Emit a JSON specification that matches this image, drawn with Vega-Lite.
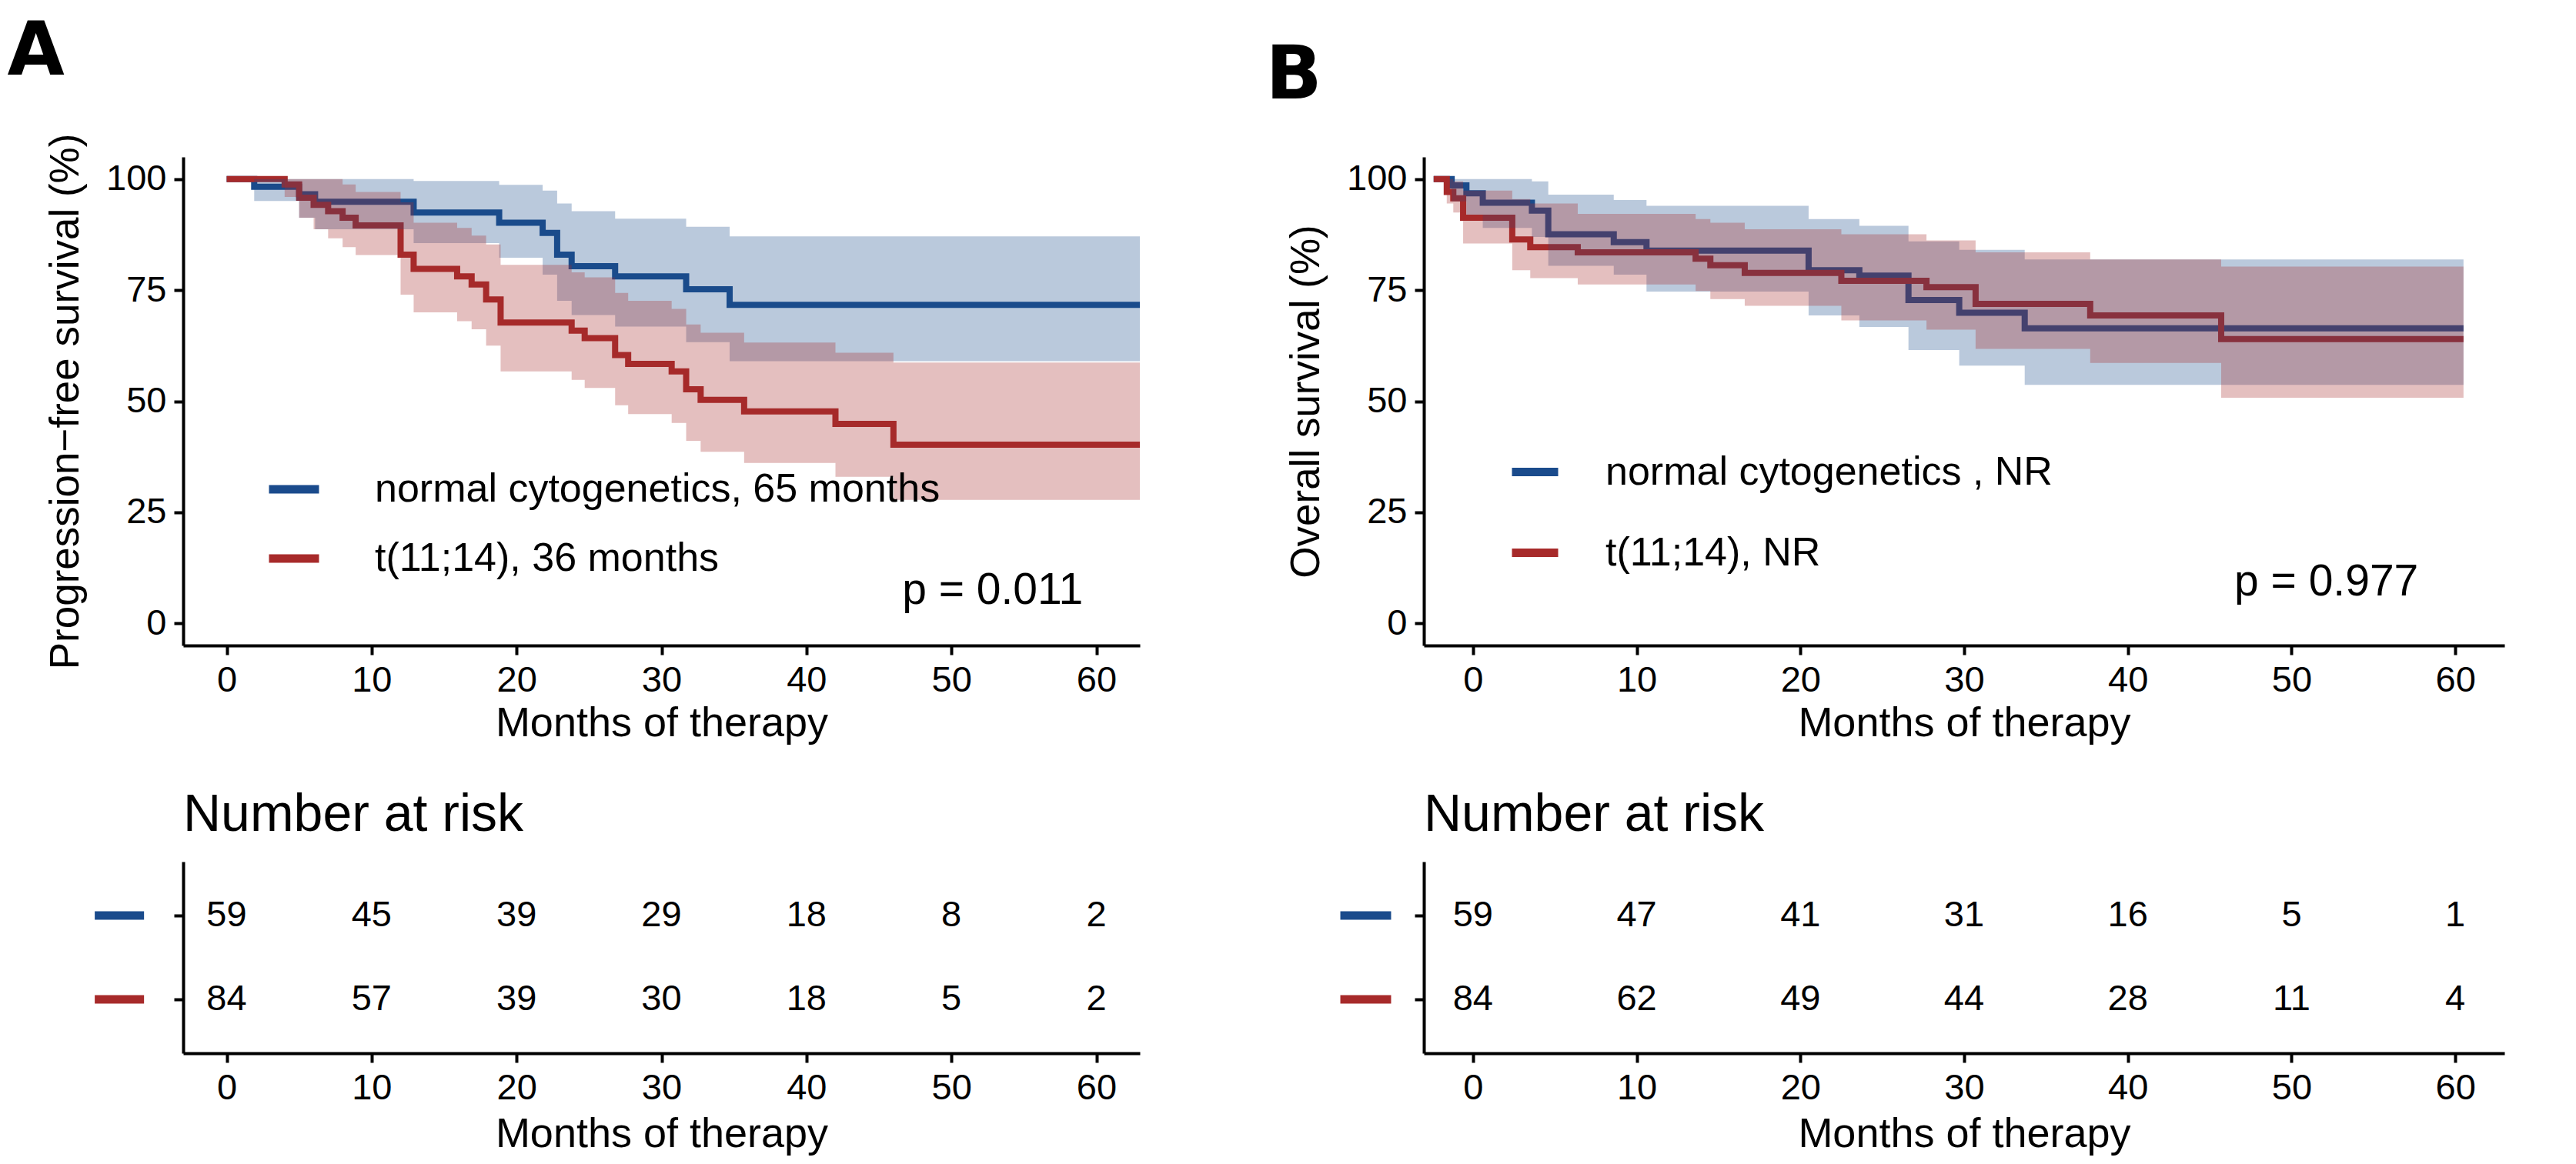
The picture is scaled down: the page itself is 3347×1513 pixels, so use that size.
{
 "$schema": "https://vega.github.io/schema/vega-lite/v6.json",
 "background": "white",
 "padding": {"left": 9, "top": 20, "right": 20, "bottom": 10},
 "config": {
  "font": "Liberation Sans",
  "view": {"stroke": null},
  "axis": {"grid": false, "domainColor": "black", "domainWidth": 4, "tickColor": "black", "tickWidth": 4, "tickSize": 12, "labelFontSize": 47, "labelColor": "black", "labelPadding": 10, "titleFontSize": 54, "titleFontWeight": "normal", "titleColor": "black", "labelFont": "Liberation Sans", "titleFont": "Liberation Sans"},
  "title": {"color": "black", "font": "Liberation Sans"},
  "text": {"font": "Liberation Sans", "color": "black"}
 },
 "datasets": {
  "kmA": [
   {"g": "normal cytogenetics, 65 months", "t": 0, "s": 100, "lo": 100, "hi": 100},
   {"g": "normal cytogenetics, 65 months", "t": 1.9, "s": 98.3, "lo": 95.1, "hi": 100},
   {"g": "normal cytogenetics, 65 months", "t": 5, "s": 96.6, "lo": 91.3, "hi": 100},
   {"g": "normal cytogenetics, 65 months", "t": 6.1, "s": 94.9, "lo": 88.7, "hi": 100},
   {"g": "normal cytogenetics, 65 months", "t": 12.9, "s": 92.5, "lo": 85.6, "hi": 99.6},
   {"g": "normal cytogenetics, 65 months", "t": 18.8, "s": 90.2, "lo": 82.3, "hi": 98.7},
   {"g": "normal cytogenetics, 65 months", "t": 21.8, "s": 87.9, "lo": 78.5, "hi": 97.4},
   {"g": "normal cytogenetics, 65 months", "t": 22.8, "s": 83.0, "lo": 72.6, "hi": 94.5},
   {"g": "normal cytogenetics, 65 months", "t": 23.8, "s": 80.4, "lo": 69.4, "hi": 92.8},
   {"g": "normal cytogenetics, 65 months", "t": 26.8, "s": 78.1, "lo": 66.8, "hi": 91.1},
   {"g": "normal cytogenetics, 65 months", "t": 31.7, "s": 75.2, "lo": 63.3, "hi": 89.3},
   {"g": "normal cytogenetics, 65 months", "t": 34.7, "s": 71.7, "lo": 59.0, "hi": 87.1},
   {"g": "normal cytogenetics, 65 months", "t": 63, "s": 71.7, "lo": 59.0, "hi": 87.1},
   {"g": "t(11;14), 36 months", "t": 0, "s": 100, "lo": 100, "hi": 100},
   {"g": "t(11;14), 36 months", "t": 4, "s": 98.8, "lo": 96, "hi": 100},
   {"g": "t(11;14), 36 months", "t": 5, "s": 95.8, "lo": 91.3, "hi": 100},
   {"g": "t(11;14), 36 months", "t": 6, "s": 94.2, "lo": 88.7, "hi": 100},
   {"g": "t(11;14), 36 months", "t": 7, "s": 92.8, "lo": 86.7, "hi": 100},
   {"g": "t(11;14), 36 months", "t": 8, "s": 91.3, "lo": 84.7, "hi": 98.8},
   {"g": "t(11;14), 36 months", "t": 8.9, "s": 89.6, "lo": 82.9, "hi": 97.1},
   {"g": "t(11;14), 36 months", "t": 12, "s": 83.0, "lo": 74.0, "hi": 94.8},
   {"g": "t(11;14), 36 months", "t": 12.9, "s": 79.8, "lo": 70.0, "hi": 90.2},
   {"g": "t(11;14), 36 months", "t": 15.9, "s": 78.1, "lo": 68.0, "hi": 89.0},
   {"g": "t(11;14), 36 months", "t": 16.9, "s": 76.3, "lo": 66.2, "hi": 87.3},
   {"g": "t(11;14), 36 months", "t": 17.9, "s": 72.9, "lo": 62.5, "hi": 85.3},
   {"g": "t(11;14), 36 months", "t": 18.9, "s": 67.7, "lo": 56.7, "hi": 80.7},
   {"g": "t(11;14), 36 months", "t": 23.8, "s": 65.9, "lo": 54.8, "hi": 79.0},
   {"g": "t(11;14), 36 months", "t": 24.7, "s": 64.2, "lo": 53.0, "hi": 77.9},
   {"g": "t(11;14), 36 months", "t": 26.8, "s": 60.4, "lo": 49.1, "hi": 74.4},
   {"g": "t(11;14), 36 months", "t": 27.7, "s": 58.4, "lo": 47.1, "hi": 72.6},
   {"g": "t(11;14), 36 months", "t": 30.7, "s": 56.7, "lo": 45.1, "hi": 70.8},
   {"g": "t(11;14), 36 months", "t": 31.7, "s": 52.7, "lo": 41.1, "hi": 67.3},
   {"g": "t(11;14), 36 months", "t": 32.7, "s": 50.3, "lo": 38.6, "hi": 65.4},
   {"g": "t(11;14), 36 months", "t": 35.7, "s": 47.7, "lo": 36.1, "hi": 63.2},
   {"g": "t(11;14), 36 months", "t": 42, "s": 44.9, "lo": 33.0, "hi": 60.9},
   {"g": "t(11;14), 36 months", "t": 46, "s": 40.2, "lo": 27.8, "hi": 58.7},
   {"g": "t(11;14), 36 months", "t": 63, "s": 40.2, "lo": 27.8, "hi": 58.7}
  ],
  "kmB": [
   {"g": "normal cytogenetics , NR", "t": -2.4, "s": 100, "lo": 100, "hi": 100},
   {"g": "normal cytogenetics , NR", "t": -1.3, "s": 98.6, "lo": 95, "hi": 100},
   {"g": "normal cytogenetics , NR", "t": -0.4, "s": 96.8, "lo": 92, "hi": 100},
   {"g": "normal cytogenetics , NR", "t": 0.6, "s": 94.7, "lo": 89, "hi": 100},
   {"g": "normal cytogenetics , NR", "t": 3.6, "s": 92.9, "lo": 87, "hi": 99.5},
   {"g": "normal cytogenetics , NR", "t": 4.6, "s": 87.6, "lo": 80.5, "hi": 96.5},
   {"g": "normal cytogenetics , NR", "t": 8.6, "s": 85.8, "lo": 78.5, "hi": 95.3},
   {"g": "normal cytogenetics , NR", "t": 10.6, "s": 83.9, "lo": 74.7, "hi": 94.0},
   {"g": "normal cytogenetics , NR", "t": 20.5, "s": 79.5, "lo": 69.3, "hi": 91.0},
   {"g": "normal cytogenetics , NR", "t": 23.6, "s": 78.3, "lo": 66.7, "hi": 89.5},
   {"g": "normal cytogenetics , NR", "t": 26.6, "s": 72.8, "lo": 61.5, "hi": 86.0},
   {"g": "normal cytogenetics , NR", "t": 29.7, "s": 69.9, "lo": 58.0, "hi": 84.1},
   {"g": "normal cytogenetics , NR", "t": 33.7, "s": 66.4, "lo": 53.7, "hi": 81.9},
   {"g": "normal cytogenetics , NR", "t": 60.5, "s": 66.4, "lo": 53.7, "hi": 81.9},
   {"g": "t(11;14), NR", "t": -2.4, "s": 100, "lo": 100, "hi": 100},
   {"g": "t(11;14), NR", "t": -1.6, "s": 97.1, "lo": 94.5, "hi": 100},
   {"g": "t(11;14), NR", "t": -1.2, "s": 95.7, "lo": 92.5, "hi": 99.5},
   {"g": "t(11;14), NR", "t": -0.6, "s": 91.3, "lo": 85.5, "hi": 97.4},
   {"g": "t(11;14), NR", "t": 2.4, "s": 86.4, "lo": 79.5, "hi": 95.5},
   {"g": "t(11;14), NR", "t": 3.5, "s": 84.7, "lo": 77.7, "hi": 94.5},
   {"g": "t(11;14), NR", "t": 6.4, "s": 83.5, "lo": 76.3, "hi": 92.2},
   {"g": "t(11;14), NR", "t": 13.6, "s": 82.1, "lo": 74.8, "hi": 91.0},
   {"g": "t(11;14), NR", "t": 14.5, "s": 80.6, "lo": 73.0, "hi": 90.2},
   {"g": "t(11;14), NR", "t": 16.6, "s": 78.9, "lo": 71.5, "hi": 88.7},
   {"g": "t(11;14), NR", "t": 22.5, "s": 77.1, "lo": 68.2, "hi": 87.6},
   {"g": "t(11;14), NR", "t": 27.7, "s": 75.7, "lo": 66.1, "hi": 86.2},
   {"g": "t(11;14), NR", "t": 30.7, "s": 71.9, "lo": 61.8, "hi": 83.5},
   {"g": "t(11;14), NR", "t": 37.7, "s": 69.3, "lo": 58.6, "hi": 81.9},
   {"g": "t(11;14), NR", "t": 45.7, "s": 64.0, "lo": 50.8, "hi": 80.3},
   {"g": "t(11;14), NR", "t": 60.5, "s": 64.0, "lo": 50.8, "hi": 80.3}
  ],
  "riskA": [
   {"g": "normal", "t": 0, "n": 59}, {"g": "normal", "t": 10, "n": 45}, {"g": "normal", "t": 20, "n": 39}, {"g": "normal", "t": 30, "n": 29}, {"g": "normal", "t": 40, "n": 18}, {"g": "normal", "t": 50, "n": 8}, {"g": "normal", "t": 60, "n": 2},
   {"g": "t1114", "t": 0, "n": 84}, {"g": "t1114", "t": 10, "n": 57}, {"g": "t1114", "t": 20, "n": 39}, {"g": "t1114", "t": 30, "n": 30}, {"g": "t1114", "t": 40, "n": 18}, {"g": "t1114", "t": 50, "n": 5}, {"g": "t1114", "t": 60, "n": 2}
  ],
  "riskB": [
   {"g": "normal", "t": 0, "n": 59}, {"g": "normal", "t": 10, "n": 47}, {"g": "normal", "t": 20, "n": 41}, {"g": "normal", "t": 30, "n": 31}, {"g": "normal", "t": 40, "n": 16}, {"g": "normal", "t": 50, "n": 5}, {"g": "normal", "t": 60, "n": 1},
   {"g": "t1114", "t": 0, "n": 84}, {"g": "t1114", "t": 10, "n": 62}, {"g": "t1114", "t": 20, "n": 49}, {"g": "t1114", "t": 30, "n": 44}, {"g": "t1114", "t": 40, "n": 28}, {"g": "t1114", "t": 50, "n": 11}, {"g": "t1114", "t": 60, "n": 4}
  ],
  "groups": [{"g": "normal"}, {"g": "t1114"}]
 },
 "columns": 2,
 "spacing": {"row": 281, "column": 369},
 "bounds": "flush",
 "resolve": {"scale": {"x": "independent", "y": "independent", "stroke": "independent", "fill": "independent", "color": "independent"}, "legend": {"stroke": "independent", "fill": "independent", "color": "independent"}},
 "concat": [
  {
   "width": 1243, "height": 635,
   "title": {"text": "A", "anchor": "start", "frame": "bounds", "font": "DejaVu Sans", "fontSize": 96, "fontWeight": "bold", "offset": 56, "dx": -50},
   "layer": [
    {
     "data": {"name": "kmA"},
     "mark": {"type": "line", "interpolate": "step-after", "strokeWidth": 8, "clip": true},
     "encoding": {
      "x": {"field": "t", "type": "quantitative", "scale": {"domain": [-3, 63], "nice": false, "zero": false}, "axis": {"values": [0, 10, 20, 30, 40, 50, 60], "title": "Months of therapy", "titlePadding": 6}},
      "y": {"field": "s", "type": "quantitative", "scale": {"domain": [-5, 105], "nice": false, "zero": false}, "axis": {"values": [0, 25, 50, 75, 100], "title": "Progression−free survival (%)", "titlePadding": 25, "titleFontSize": 53}},
      "stroke": {"field": "g", "type": "nominal", "scale": {"domain": ["normal cytogenetics, 65 months", "t(11;14), 36 months"], "range": ["#1A4B8C", "#A72A2A"]},
       "legend": {"title": null, "orient": "none", "legendX": 106, "legendY": 394, "symbolType": "stroke", "symbolStrokeWidth": 11, "symbolSize": 4225, "labelFontSize": 52, "labelOffset": 67, "rowPadding": 26, "labelColor": "black", "labelFont": "Liberation Sans", "labelLimit": 1500}}
     }
    },
    {
     "data": {"name": "kmA"},
     "mark": {"type": "area", "interpolate": "step-after", "opacity": 0.3, "clip": true},
     "encoding": {
      "x": {"field": "t", "type": "quantitative"},
      "y": {"field": "lo", "type": "quantitative"},
      "y2": {"field": "hi"},
      "fill": {"field": "g", "type": "nominal", "scale": {"domain": ["normal cytogenetics, 65 months", "t(11;14), 36 months"], "range": ["#1A4B8C", "#A72A2A"]}, "legend": null}
     }
    },
    {
     "data": {"values": [{}]},
     "mark": {"type": "text", "text": "p = 0.011", "fontSize": 57, "align": "left", "baseline": "middle"},
     "encoding": {"x": {"datum": 46.6}, "y": {"datum": 7.3}}
    }
   ]
  },
  {
   "width": 1404, "height": 635,
   "title": {"text": "B", "anchor": "start", "frame": "bounds", "font": "DejaVu Sans", "fontSize": 96, "fontWeight": "bold", "offset": 56, "dx": -27},
   "layer": [
    {
     "data": {"name": "kmB"},
     "mark": {"type": "line", "interpolate": "step-after", "strokeWidth": 8, "clip": true},
     "encoding": {
      "x": {"field": "t", "type": "quantitative", "scale": {"domain": [-3, 63], "nice": false, "zero": false}, "axis": {"values": [0, 10, 20, 30, 40, 50, 60], "title": "Months of therapy", "titlePadding": 6}},
      "y": {"field": "s", "type": "quantitative", "scale": {"domain": [-5, 105], "nice": false, "zero": false}, "axis": {"values": [0, 25, 50, 75, 100], "title": "Overall survival (%)", "titlePadding": 25, "titleFontSize": 53}},
      "stroke": {"field": "g", "type": "nominal", "scale": {"domain": ["normal cytogenetics , NR", "t(11;14), NR"], "range": ["#1A4B8C", "#A72A2A"]},
       "legend": {"title": null, "orient": "none", "legendX": 109, "legendY": 374, "symbolType": "stroke", "symbolStrokeWidth": 11, "symbolSize": 3600, "labelFontSize": 52, "labelOffset": 56, "rowPadding": 43, "labelColor": "black", "labelFont": "Liberation Sans", "labelLimit": 1500}}
     }
    },
    {
     "data": {"name": "kmB"},
     "mark": {"type": "area", "interpolate": "step-after", "opacity": 0.3, "clip": true},
     "encoding": {
      "x": {"field": "t", "type": "quantitative"},
      "y": {"field": "lo", "type": "quantitative"},
      "y2": {"field": "hi"},
      "fill": {"field": "g", "type": "nominal", "scale": {"domain": ["normal cytogenetics , NR", "t(11;14), NR"], "range": ["#1A4B8C", "#A72A2A"]}, "legend": null}
     }
    },
    {
     "data": {"values": [{}]},
     "mark": {"type": "text", "text": "p = 0.977", "fontSize": 57, "align": "left", "baseline": "middle"},
     "encoding": {"x": {"datum": 46.5}, "y": {"datum": 9.2}}
    }
   ]
  },
  {
   "width": 1243, "height": 249,
   "title": {"text": "Number at risk", "anchor": "start", "frame": "group", "fontSize": 68, "fontWeight": "normal", "offset": 26},
   "layer": [
    {
     "data": {"name": "riskA"},
     "mark": {"type": "text", "fontSize": 47, "align": "center", "baseline": "middle"},
     "encoding": {
      "x": {"field": "t", "type": "quantitative", "scale": {"domain": [-3, 63], "nice": false, "zero": false}, "axis": {"values": [0, 10, 20, 30, 40, 50, 60], "title": "Months of therapy", "titlePadding": 10}},
      "y": {"field": "g", "type": "nominal", "scale": {"type": "point", "padding": 0.64, "domain": ["normal", "t1114"]}, "axis": {"title": null, "labels": false}},
      "text": {"field": "n", "type": "quantitative"}
     }
    },
    {
     "data": {"name": "groups"},
     "mark": {"type": "rule", "strokeWidth": 11},
     "encoding": {
      "x": {"datum": -9.1}, "x2": {"datum": -5.7},
      "y": {"field": "g", "type": "nominal"},
      "color": {"field": "g", "type": "nominal", "scale": {"domain": ["normal", "t1114"], "range": ["#1A4B8C", "#A72A2A"]}, "legend": null}
     }
    }
   ]
  },
  {
   "width": 1404, "height": 249,
   "title": {"text": "Number at risk", "anchor": "start", "frame": "group", "fontSize": 68, "fontWeight": "normal", "offset": 26},
   "layer": [
    {
     "data": {"name": "riskB"},
     "mark": {"type": "text", "fontSize": 47, "align": "center", "baseline": "middle"},
     "encoding": {
      "x": {"field": "t", "type": "quantitative", "scale": {"domain": [-3, 63], "nice": false, "zero": false}, "axis": {"values": [0, 10, 20, 30, 40, 50, 60], "title": "Months of therapy", "titlePadding": 10}},
      "y": {"field": "g", "type": "nominal", "scale": {"type": "point", "padding": 0.64, "domain": ["normal", "t1114"]}, "axis": {"title": null, "labels": false}},
      "text": {"field": "n", "type": "quantitative"}
     }
    },
    {
     "data": {"name": "groups"},
     "mark": {"type": "rule", "strokeWidth": 11},
     "encoding": {
      "x": {"datum": -8.1}, "x2": {"datum": -5.0},
      "y": {"field": "g", "type": "nominal"},
      "color": {"field": "g", "type": "nominal", "scale": {"domain": ["normal", "t1114"], "range": ["#1A4B8C", "#A72A2A"]}, "legend": null}
     }
    }
   ]
  }
 ]
}
